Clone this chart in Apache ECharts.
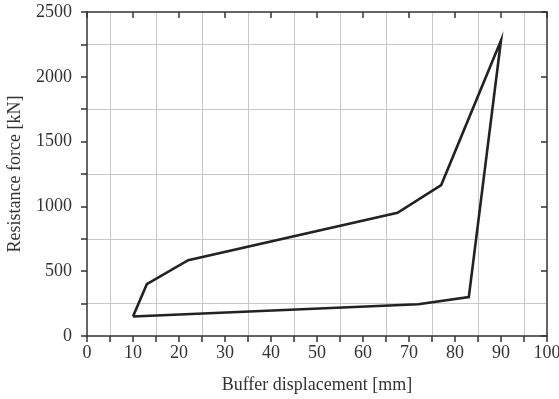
<!DOCTYPE html>
<html>
<head>
<meta charset="utf-8">
<script src="https://cdn.jsdelivr.net/npm/echarts@6/dist/echarts.min.js"></script>
<style>
  html, body { margin: 0; padding: 0; background: #fff; }
  #chart { width: 559px; height: 399px; }
</style>
</head>
<body>
<div id="chart"></div>
<script>
  // hysteresis loop (closed: last point = first)
  var displacement = [10, 13, 22, 67.5, 77, 90, 83, 72, 10]
  var force = [150, 400, 585, 950, 1165, 2280, 300, 245, 150]

  var xName = 'Buffer displacement [mm]'
  var yName = 'Resistance force [kN]'

  var font = 'Liberation Serif'
  var ink = '#333'
  var gridColor = '#c8c8c8'

  var points = displacement.map(function (d, i) { return [d, force[i]] })

  var chart = echarts.init(document.getElementById('chart'))
  chart.setOption({
    animation: false,
    grid: { left: 87, right: 12, top: 12, bottom: 63, outerBoundsMode: 'none', containLabel: false },
    xAxis: [
      {
        type: 'value', position: 'bottom', min: 0, max: 100, interval: 5,
        name: xName, nameLocation: 'middle', nameGap: 40,
        nameTextStyle: { fontFamily: font, fontSize: 18, color: ink },
        axisLine: { onZero: false, lineStyle: { color: ink, width: 1.5 } },
        axisTick: { inside: false, length: 6, lineStyle: { color: ink, width: 1.5 } },
        axisLabel: {
          fontFamily: font, fontSize: 18, color: ink, margin: 8,
          formatter: function (v) { return v % 10 === 0 ? String(v) : '' }
        },
        splitLine: { show: false }
      },
      {
        type: 'value', position: 'top', min: 0, max: 100, interval: 10,
        axisLine: { onZero: false, lineStyle: { color: ink, width: 1.5 } },
        axisTick: { inside: true, length: 6, lineStyle: { color: ink, width: 1.5 } },
        axisLabel: { show: false },
        splitLine: { show: false },
        minorTick: { show: false, splitNumber: 2 },
        minorSplitLine: { show: true, lineStyle: { color: gridColor, width: 1 } }
      }
    ],
    yAxis: [
      {
        type: 'value', position: 'left', min: 0, max: 2500, interval: 250,
        name: yName, nameLocation: 'middle', nameGap: 63,
        nameTextStyle: { fontFamily: font, fontSize: 18, color: ink },
        axisLine: { show: true, onZero: false, lineStyle: { color: ink, width: 1.5 } },
        axisTick: { show: true, inside: false, length: 6, lineStyle: { color: ink, width: 1.5 } },
        axisLabel: {
          fontFamily: font, fontSize: 18, color: ink, margin: 15,
          formatter: function (v) { return v % 500 === 0 ? String(v) : '' }
        },
        splitLine: { show: false }
      },
      {
        type: 'value', position: 'right', min: 0, max: 2500, interval: 500,
        axisLine: { show: true, onZero: false, lineStyle: { color: ink, width: 1.5 } },
        axisTick: { show: true, inside: true, length: 6, lineStyle: { color: ink, width: 1.5 } },
        axisLabel: { show: false },
        splitLine: { show: false },
        minorTick: { show: false, splitNumber: 2 },
        minorSplitLine: { show: true, lineStyle: { color: gridColor, width: 1 } }
      }
    ],
    series: [
      {
        type: 'line',
        xAxisIndex: 0,
        yAxisIndex: 0,
        data: points,
        showSymbol: false,
        symbol: 'none',
        lineStyle: { color: '#222', width: 2.6, join: 'miter' },
        z: 5
      }
    ]
  })
</script>
</body>
</html>
